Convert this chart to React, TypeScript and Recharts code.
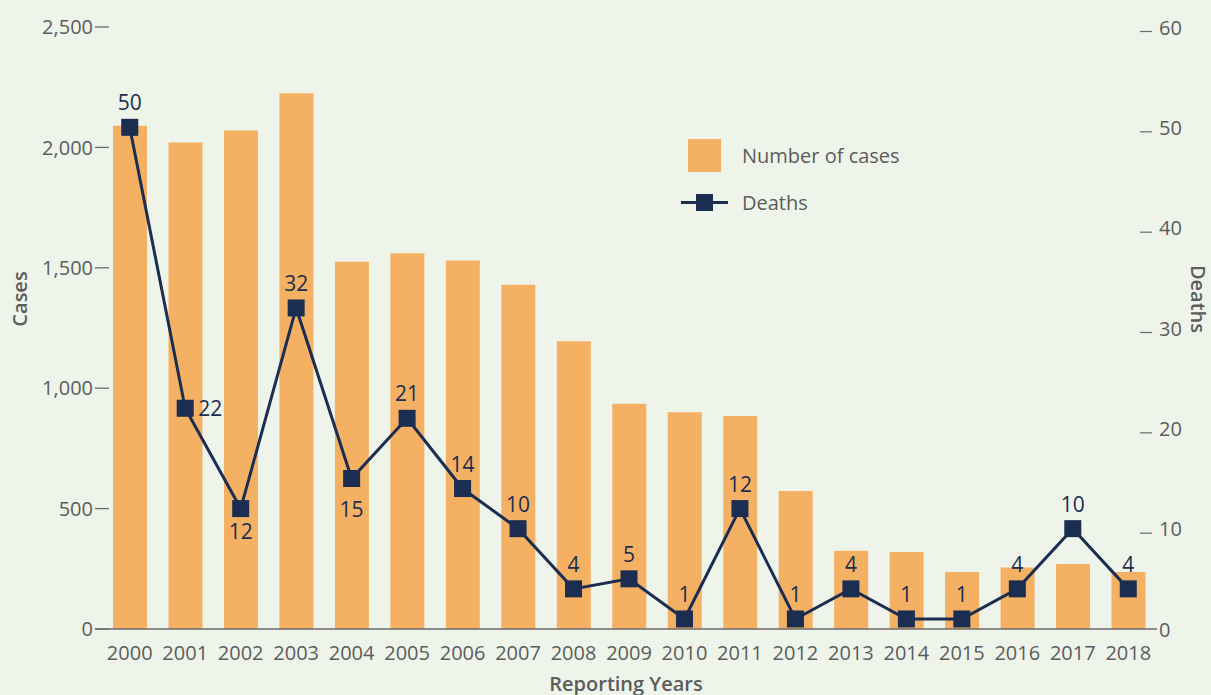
import {
  ComposedChart,
  Bar,
  Line,
  XAxis,
  YAxis,
  Legend,
  LabelList,
  Label,
} from 'recharts'

const years = [
  '2000', '2001', '2002', '2003', '2004', '2005', '2006', '2007', '2008', '2009',
  '2010', '2011', '2012', '2013', '2014', '2015', '2016', '2017', '2018',
]
const cases = [2090, 2020, 2070, 2225, 1525, 1560, 1530, 1430, 1195, 935, 900, 885, 573, 325, 320, 237, 255, 270, 237]
const deaths = [50, 22, 12, 32, 15, 21, 14, 10, 4, 5, 1, 12, 1, 4, 1, 1, 4, 10, 4]
const caseTicks = [0, 500, 1000, 1500, 2000, 2500]
const deathTicks = [0, 10, 20, 30, 40, 50, 60]

const data = years.map((year, i) => ({ year, cases: cases[i], deaths: deaths[i] }))

const BG = '#EEF4EA'
const ORANGE = '#F5B163'
const NAVY = '#1B2D51'
const GREY = '#5C5C5C'
const AXIS = '#6B6B6B'
const FONT = '"Open Sans", sans-serif'

// a few death labels don't sit above their marker
const labelSpots: Record<string, { dx: number; dy: number; anchor: string }> = {
  '2001': { dx: 13, dy: 0, anchor: 'start' },
  '2002': { dx: 0, dy: 23, anchor: 'middle' },
  '2004': { dx: 0, dy: 31, anchor: 'middle' },
}

const LeftTick = ({ x, y, payload }: any) => (
  <g>
    <line x1={x} x2={x + 14} y1={y} y2={y} stroke={AXIS} strokeWidth={1.3} />
    <text x={x - 2} y={y} dy="0.36em" textAnchor="end" fill={GREY} fontSize={20} fontFamily={FONT}>
      {Number(payload.value).toLocaleString('en-US')}
    </text>
  </g>
)

const RightTick = ({ x, y, payload }: any) => (
  <g>
    {payload.value !== 0 && (
      <line x1={x - 17} x2={x - 5} y1={y + 4.5} y2={y + 4.5} stroke={AXIS} strokeWidth={1.2} />
    )}
    <text x={x + 2} y={y} dy="0.38em" textAnchor="start" fill={GREY} fontSize={20} fontFamily={FONT}>
      {payload.value}
    </text>
  </g>
)

const YearTick = ({ x, y, payload }: any) => (
  <text x={x} y={y + 31} textAnchor="middle" fill={GREY} fontSize={20} fontFamily={FONT}>
    {payload.value}
  </text>
)

const DeathLabel = (props: any) => {
  const { x, y, value, index } = props
  const spot = labelSpots[years[index]] ?? { dx: 0, dy: -24.5, anchor: 'middle' }
  return (
    <text
      x={x + spot.dx}
      y={y + spot.dy}
      dy="0.36em"
      textAnchor={spot.anchor}
      fill={NAVY}
      fontSize={21}
      fontFamily={FONT}
    >
      {value}
    </text>
  )
}

const LegendBox = ({ payload }: any) => {
  const items = [...(payload || [])].sort((a: any, b: any) => (a.type === 'rect' ? -1 : b.type === 'rect' ? 1 : 0))
  return (
    <div style={{ fontFamily: FONT, fontSize: 20, color: GREY }}>
      {items.map((entry: any) => (
        <div key={entry.value} style={{ display: 'flex', alignItems: 'center', height: 47 }}>
          <svg width={47} height={33} style={{ marginRight: 14, display: 'block' }}>
            {entry.type === 'rect' ? (
              <rect x={7} y={0} width={33} height={33} fill={ORANGE} />
            ) : (
              <>
                <line x1={0} x2={47} y1={16.5} y2={16.5} stroke={NAVY} strokeWidth={3} />
                <rect x={15} y={8} width={17} height={17} fill={NAVY} />
              </>
            )}
          </svg>
          <span>{entry.value}</span>
        </div>
      ))}
    </div>
  )
}

const App = () => (
  <div style={{ position: 'absolute', left: 0, top: 0, width: 1211, height: 695, background: BG }}>
    <ComposedChart width={1211} height={695} data={data} margin={{ top: 27, right: 0, bottom: 0, left: 0 }}>
      <XAxis
        dataKey="year"
        interval={0}
        height={66}
        padding={{ left: 7, right: 1 }}
        tick={<YearTick />}
        tickLine={false}
        tickSize={0}
        tickMargin={0}
        axisLine={{ stroke: AXIS, strokeWidth: 1.5 }}
      >
        <Label
          content={({ viewBox }: any) => (
            <text
              x={viewBox.x + viewBox.width / 2}
              y={viewBox.y + 61.5}
              textAnchor="middle"
              fill={GREY}
              fontSize={20}
              fontWeight={600}
              fontFamily={FONT}
            >
              Reporting Years
            </text>
          )}
        />
      </XAxis>
      <YAxis
        yAxisId="cases"
        width={95}
        domain={[0, 2500]}
        ticks={caseTicks}
        tick={<LeftTick />}
        tickLine={false}
        tickSize={0}
        tickMargin={0}
        axisLine={false}
      >
        <Label
          content={({ viewBox }: any) => {
            const cx = viewBox.x + 20
            const cy = viewBox.y + viewBox.height / 2 - 29
            return (
              <text
                x={cx}
                y={cy}
                transform={`rotate(-90 ${cx} ${cy})`}
                dy="0.36em"
                textAnchor="middle"
                fill={GREY}
                fontSize={20}
                fontWeight={600}
                fontFamily={FONT}
              >
                Cases
              </text>
            )
          }}
        />
      </YAxis>
      <YAxis
        yAxisId="deaths"
        orientation="right"
        width={54}
        domain={[0, 60]}
        ticks={deathTicks}
        tick={<RightTick />}
        tickLine={false}
        tickSize={0}
        tickMargin={0}
        axisLine={false}
      >
        <Label
          content={({ viewBox }: any) => {
            const cx = viewBox.x + 41
            const cy = viewBox.y + viewBox.height / 2 - 29
            return (
              <text
                x={cx}
                y={cy}
                transform={`rotate(90 ${cx} ${cy})`}
                dy="0.36em"
                textAnchor="middle"
                fill={GREY}
                fontSize={20}
                fontWeight={600}
                fontFamily={FONT}
              >
                Deaths
              </text>
            )
          }}
        />
      </YAxis>
      <Legend
        layout="vertical"
        align="center"
        verticalAlign="middle"
        content={<LegendBox />}
        wrapperStyle={{ left: 681, top: 132, width: 260 }}
      />
      <Bar
        yAxisId="cases"
        dataKey="cases"
        name="Number of cases"
        legendType="rect"
        fill={ORANGE}
        barSize={34}
        isAnimationActive={false}
      />
      <Line
        yAxisId="deaths"
        dataKey="deaths"
        name="Deaths"
        legendType="line"
        type="linear"
        stroke={NAVY}
        strokeWidth={3}
        dot={(p: any) => (
          <rect key={`dot-${p.index}`} x={p.cx - 8.5} y={p.cy - 8.5} width={17} height={17} fill={NAVY} />
        )}
        activeDot={false}
        isAnimationActive={false}
      >
        <LabelList dataKey="deaths" content={<DeathLabel />} />
      </Line>
    </ComposedChart>
  </div>
)

export default App
